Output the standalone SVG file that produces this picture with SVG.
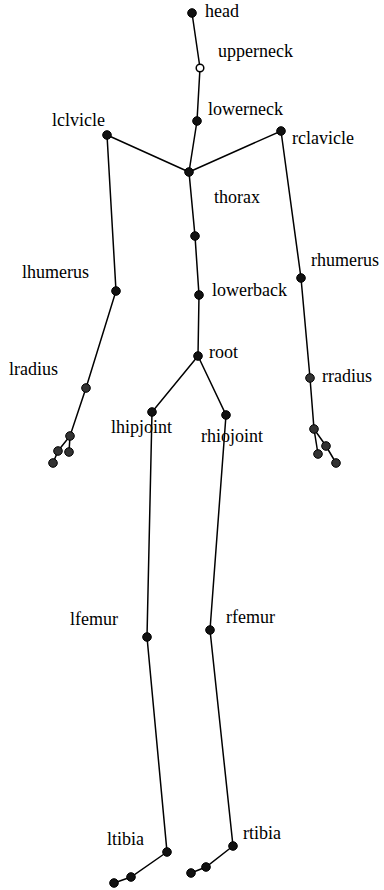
<svg xmlns="http://www.w3.org/2000/svg" width="384" height="890" viewBox="0 0 384 890">
<style>
.e{stroke:#000;stroke-width:1.5;fill:none}
.n{fill:#111;stroke:#000;stroke-width:1}
.g{fill:#333;stroke:#000;stroke-width:1}
.w{fill:#fff;stroke:#000;stroke-width:1.5}
text{font-family:"Liberation Serif","Times New Roman",serif;font-size:18px;fill:#000}
</style>
<rect width="384" height="890" fill="#fff"/>
<g id="connectors" class="e">
<polyline points="192,13 200,68 197,121 189,172 195,236 199,295 198,356"/>
<polyline points="189,172 107,135 116,291 86,388 70,436 58,451 53,463"/>
<line x1="70" y1="436" x2="69" y2="452"/>
<polyline points="189,172 281,131 301,278 310,378 314,429 326,446 336,463"/>
<line x1="314" y1="429" x2="318" y2="454"/>
<polyline points="198,356 152,412 147,637 167,852 131,877 114,883"/>
<polyline points="198,356 226,415 210,630 233,846 206,867 191,873"/>
</g>
<g id="head"><circle class="n" cx="192" cy="13" r="4.3"/><text x="205" y="17">head</text></g>
<g id="upperneck"><circle class="w" cx="200" cy="68" r="3.8"/><text x="218" y="57">upperneck</text></g>
<g id="lowerneck"><circle class="n" cx="197" cy="121" r="4.3"/><text x="208" y="115">lowerneck</text></g>
<g id="thorax-top"><circle class="n" cx="189" cy="172" r="4.3"/></g>
<g id="thorax"><circle class="n" cx="195" cy="236" r="4.3"/><text x="214" y="203">thorax</text></g>
<g id="lowerback"><circle class="n" cx="199" cy="295" r="4.3"/><text x="212" y="296">lowerback</text></g>
<g id="root"><circle class="n" cx="198" cy="356" r="4.3"/><text x="209" y="358">root</text></g>
<g id="lclavicle"><circle class="n" cx="107" cy="135" r="4.3"/><text x="52" y="126">lclvicle</text></g>
<g id="lhumerus"><circle class="n" cx="116" cy="291" r="4.3"/><text x="22" y="278">lhumerus</text></g>
<g id="lradius"><circle class="g" cx="86" cy="388" r="4.3"/><text x="9" y="375">lradius</text></g>
<g id="lwrist"><circle class="g" cx="70" cy="436" r="4.3"/></g>
<g id="lhand"><circle class="g" cx="58" cy="451" r="4.3"/></g>
<g id="lthumb"><circle class="g" cx="69" cy="452" r="4.3"/></g>
<g id="lfingers"><circle class="g" cx="53" cy="463" r="4.3"/></g>
<g id="rclavicle"><circle class="n" cx="281" cy="131" r="4.3"/><text x="292" y="144">rclavicle</text></g>
<g id="rhumerus"><circle class="n" cx="301" cy="278" r="4.3"/><text x="311" y="266">rhumerus</text></g>
<g id="rradius"><circle class="g" cx="310" cy="378" r="4.3"/><text x="322" y="382">rradius</text></g>
<g id="rwrist"><circle class="g" cx="314" cy="429" r="4.3"/></g>
<g id="rhand"><circle class="g" cx="326" cy="446" r="4.3"/></g>
<g id="rthumb"><circle class="g" cx="318" cy="454" r="4.3"/></g>
<g id="rfingers"><circle class="g" cx="336" cy="463" r="4.3"/></g>
<g id="lhipjoint"><circle class="n" cx="152" cy="412" r="4.3"/><text x="111" y="433">lhipjoint</text></g>
<g id="lfemur"><circle class="n" cx="147" cy="637" r="4.3"/><text x="70" y="625">lfemur</text></g>
<g id="ltibia"><circle class="n" cx="167" cy="852" r="4.3"/><text x="107" y="845">ltibia</text></g>
<g id="lfoot"><circle class="n" cx="131" cy="877" r="4.3"/></g>
<g id="ltoes"><circle class="n" cx="114" cy="883" r="4.3"/></g>
<g id="rhipjoint"><circle class="n" cx="226" cy="415" r="4.3"/><text x="201" y="442">rhiojoint</text></g>
<g id="rfemur"><circle class="n" cx="210" cy="630" r="4.3"/><text x="226" y="623">rfemur</text></g>
<g id="rtibia"><circle class="n" cx="233" cy="846" r="4.3"/><text x="243" y="839">rtibia</text></g>
<g id="rfoot"><circle class="n" cx="206" cy="867" r="4.3"/></g>
<g id="rtoes"><circle class="n" cx="191" cy="873" r="4.3"/></g>
</svg>
